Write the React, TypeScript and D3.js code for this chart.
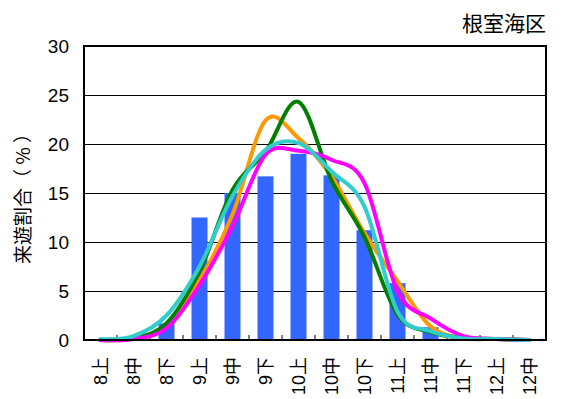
import React from "react";
import * as d3 from "d3";

const categories = ["8上", "8中", "8下", "9上", "9中", "9下", "10上", "10中", "10下", "11上", "11中", "11下", "12上", "12中"];
const barValues = [0, 0, 1.7, 12.5, 15.0, 16.7, 19.0, 16.8, 11.2, 5.8, 1.3, 0, 0, 0];
const orangeValues = [0, 0.15, 1.6, 6.1, 12.8, 22.4, 20.6, 16.7, 10.9, 6.0, 1.4, 0.2, 0.1, 0];
const greenValues = [0, 0.2, 1.7, 7.0, 15.3, 19.2, 24.3, 16.3, 10.5, 2.6, 0.8, 0.2, 0.1, 0];
const magentaValues = [0, 0.1, 1.2, 5.6, 11.6, 18.9, 19.3, 18.4, 16.0, 5.0, 2.2, 0.4, 0.1, 0];
const cyanValues = [0.1, 0.4, 2.5, 7.5, 14.7, 19.4, 20.1, 17.2, 13.6, 2.9, 0.9, 0.15, 0.1, 0];
const yTicks = [0, 5, 10, 15, 20, 25, 30];
const title = "根室海区";
const yTitle = "来遊割合（ % ）";

const W = 567;
const H = 399;
const margin = { left: 84, right: 21, top: 46, bottom: 59 };

export default function App() {
  const x = d3
    .scaleBand<string>()
    .domain(categories)
    .range([margin.left, W - margin.right])
    .paddingInner(0)
    .paddingOuter(0);
  const y = d3.scaleLinear().domain([0, 30]).range([H - margin.bottom, margin.top]);
  const bw = x.bandwidth();
  const barW = 16;
  const cx = (c: string) => (x(c) as number) + bw / 2;

  const line = d3
    .line<number>()
    .x((_, i) => cx(categories[i]))
    .y((v) => y(v))
    .curve(d3.curveCardinal.tension(0));

  const series = [
    { vals: orangeValues, color: "#FF9900" },
    { vals: greenValues, color: "#008000" },
    { vals: magentaValues, color: "#FF00FF" },
    { vals: cyanValues, color: "#33CCCC" },
  ];

  const x0 = margin.left;
  const x1 = W - margin.right;
  const yb = y(0);
  const yt = y(30);
  const sans = "'Liberation Sans', Arial, 'Noto Sans CJK JP', sans-serif";
  const cjk = "'Noto Sans CJK JP', 'Liberation Sans', sans-serif";

  return (
    <svg width={W} height={H} style={{ position: "absolute", left: 0, top: 0, background: "#fff" }}>
      <rect x={0} y={0} width={W} height={H} fill="#fff" />
      {yTicks.map((t) => (
        <line key={"g" + t} x1={x0} x2={x1} y1={Math.round(y(t)) + 0.5} y2={Math.round(y(t)) + 0.5} stroke="#000" strokeWidth={1} />
      ))}
      {categories.map((c, i) => (
        <rect
          key={"b" + c}
          x={cx(c) - barW / 2}
          y={y(barValues[i])}
          width={barW}
          height={yb - y(barValues[i])}
          fill="#3366FF"
        />
      ))}
      {categories.slice(1).map((c) => (
        <line key={"t" + c} x1={x(c) as number} x2={x(c) as number} y1={yb} y2={yb - 5} stroke="#000" strokeWidth={1} />
      ))}
      {series.map((s, i) => (
        <path key={"s" + i} d={line(s.vals) || ""} fill="none" stroke={s.color} strokeWidth={4} strokeLinejoin="round" strokeLinecap="round" />
      ))}
      <rect x={x0} y={yt} width={x1 - x0} height={yb - yt} fill="none" stroke="#000" strokeWidth={2} />
      {yTicks.map((t) => (
        <text key={"yl" + t} x={69} y={y(t)} dy="0.36em" textAnchor="end" fontSize={19} fontFamily={sans} fill="#000">
          {t}
        </text>
      ))}
      {categories.map((c) => (
        <text
          key={"xl" + c}
          transform={`translate(${cx(c)},${yb + 17}) rotate(-90)`}
          dy="0.36em"
          textAnchor="end"
          fontSize={18}
          fontFamily={sans}
          fill="#000"
        >
          {c}
        </text>
      ))}
      <text x={546} y={31} textAnchor="end" fontSize={21} fontFamily={cjk} fill="#000">
        {title}
      </text>
      <text
        transform={`translate(23,${(yt + yb) / 2 + 1}) rotate(-90)`}
        dy="0.35em"
        textAnchor="middle"
        fontSize={19}
        fontFamily={cjk}
        fill="#000"
      >
        {yTitle}
      </text>
    </svg>
  );
}
